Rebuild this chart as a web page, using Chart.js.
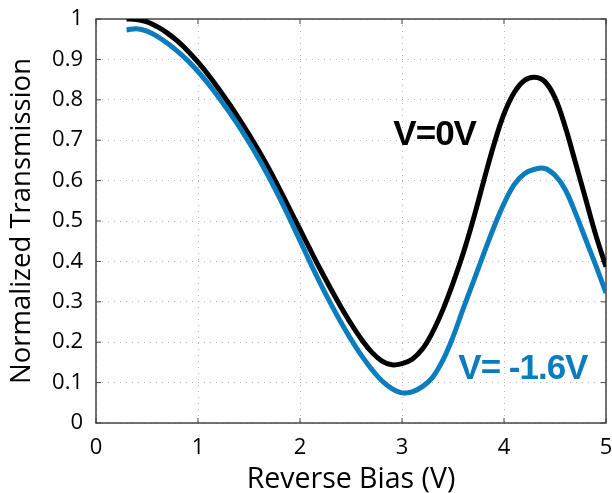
<!DOCTYPE html>
<html>
<head>
<meta charset="utf-8">
<script src="https://cdn.jsdelivr.net/npm/chart.js@4"></script>
<style>
  html, body { margin: 0; padding: 0; background: #fff; }
  #wrap { width: 612px; height: 493px; }
</style>
</head>
<body>
<div id="wrap"><canvas id="chart" width="612" height="493"></canvas></div>
<script>
// Données
const biasVolts = [0.3, 0.4, 0.5, 0.6, 0.7, 0.8, 0.9, 1.0, 1.1, 1.2, 1.3, 1.4, 1.5, 1.6, 1.7, 1.8, 1.9, 2.0,
    2.1, 2.2, 2.3, 2.4, 2.5, 2.6, 2.7, 2.8, 2.9, 3.0, 3.1, 3.2, 3.3, 3.4, 3.5, 3.6, 3.7, 3.8, 3.9, 4.0,
    4.1, 4.2, 4.3, 4.4, 4.5, 4.6, 4.7, 4.8, 4.9, 5.0];
const transmission0V = [1.0, 0.999, 0.993, 0.981, 0.965, 0.945, 0.921, 0.893, 0.862, 0.828, 0.792, 0.754,
    0.714, 0.672, 0.627, 0.579, 0.529, 0.479, 0.429, 0.38, 0.333, 0.288, 0.246, 0.208, 0.176, 0.154, 0.144,
    0.147, 0.158, 0.183, 0.225, 0.28, 0.346, 0.42, 0.505, 0.598, 0.688, 0.765, 0.818, 0.848, 0.856, 0.845,
    0.805, 0.733, 0.645, 0.555, 0.465, 0.387];
const transmissionNeg16V = [0.973, 0.976, 0.97, 0.957, 0.94, 0.92, 0.897, 0.87, 0.84, 0.807, 0.772, 0.735,
    0.695, 0.652, 0.606, 0.557, 0.505, 0.451, 0.397, 0.345, 0.296, 0.25, 0.207, 0.168, 0.134, 0.105, 0.085,
    0.0745, 0.077, 0.09, 0.113, 0.155, 0.213, 0.283, 0.35, 0.418, 0.484, 0.543, 0.59, 0.617, 0.628, 0.63,
    0.613, 0.578, 0.52, 0.455, 0.39, 0.322];
const xTicks = [0, 1, 2, 3, 4, 5];
const yTicks = [0, 0.1, 0.2, 0.3, 0.4, 0.5, 0.6, 0.7, 0.8, 0.9, 1];
const seriesLabels = ['V=0V', 'V= -1.6V'];
// position des étiquettes (en unités des axes)
const labelAnchors = [[3.32, 0.713], [4.185, 0.133]];

const BLACK = '#000000';
const BLUE = '#0B7DBE';

const toPoints = (ys) => ys.map((y, i) => ({ x: biasVolts[i], y: y }));

// Cadre, petites graduations internes et étiquettes des courbes
const framePlugin = {
    id: 'frame',
    beforeDatasetsDraw(chart) {
        const { ctx, chartArea: a, scales } = chart;
        ctx.save();
        ctx.strokeStyle = '#444';
        ctx.lineWidth = 1.5;
        ctx.strokeRect(a.left, a.top, a.right - a.left, a.bottom - a.top);
        ctx.lineWidth = 1;
        const t = 5;
        ctx.beginPath();
        xTicks.forEach(v => {
            const x = scales.x.getPixelForValue(v);
            ctx.moveTo(x, a.bottom); ctx.lineTo(x, a.bottom - t);
            ctx.moveTo(x, a.top); ctx.lineTo(x, a.top + t);
        });
        yTicks.forEach(v => {
            const y = scales.y.getPixelForValue(v);
            ctx.moveTo(a.left, y); ctx.lineTo(a.left + t, y);
            ctx.moveTo(a.right, y); ctx.lineTo(a.right - t, y);
        });
        ctx.stroke();
        ctx.restore();
    },
    afterDatasetsDraw(chart) {
        const { ctx, scales } = chart;
        ctx.save();
        ctx.font = 'bold 35px "Liberation Sans"';
        ctx.letterSpacing = '-1px';
        ctx.textAlign = 'center';
        ctx.textBaseline = 'middle';
        [BLACK, BLUE].forEach((c, i) => {
            ctx.fillStyle = c;
            ctx.fillText(seriesLabels[i], scales.x.getPixelForValue(labelAnchors[i][0]),
                scales.y.getPixelForValue(labelAnchors[i][1]));
        });
        ctx.restore();
    }
};

new Chart(document.getElementById('chart'), {
    type: 'line',
    data: {
        datasets: [
            {
                label: seriesLabels[0],
                data: toPoints(transmission0V),
                borderColor: BLACK,
                borderWidth: 5,
                pointRadius: 0,
                tension: 0.4,
                order: 2
            },
            {
                label: seriesLabels[1],
                data: toPoints(transmissionNeg16V),
                borderColor: BLUE,
                borderWidth: 5,
                pointRadius: 0,
                tension: 0.4,
                order: 1
            }
        ]
    },
    plugins: [framePlugin],
    options: {
        responsive: false,
        animation: false,
        layout: { padding: { top: 19, right: 6, left: 0, bottom: 0 } },
        plugins: {
            legend: { display: false },
            tooltip: { enabled: false }
        },
        scales: {
            x: {
                type: 'linear',
                min: 0,
                max: 5,
                afterBuildTicks: (s) => { s.ticks = xTicks.map(v => ({ value: v })); },
                afterFit: (s) => { s.height = 70; s.paddingLeft = 0; s.paddingRight = 0; },
                grid: { color: '#b5b5b5', lineWidth: 1, drawTicks: false },
                border: { display: false, dash: [1, 5] },
                ticks: {
                    color: '#000',
                    padding: 12,
                    maxRotation: 0,
                    font: { family: '"Open Sans"', size: 22 }
                },
                title: {
                    display: true,
                    text: 'Reverse Bias (V)',
                    color: '#000',
                    font: { family: '"Open Sans"', size: 28.5 },
                    padding: { top: 0, bottom: -4 }
                }
            },
            y: {
                type: 'linear',
                min: 0,
                max: 1,
                afterBuildTicks: (s) => { s.ticks = yTicks.map(v => ({ value: v })); },
                afterFit: (s) => { s.width = 96; s.paddingTop = 0; s.paddingBottom = 0; },
                grid: { color: '#b5b5b5', lineWidth: 1, drawTicks: false },
                border: { display: false, dash: [1, 5] },
                ticks: {
                    color: '#000',
                    padding: 13,
                    callback: (v) => String(+v.toFixed(1)),
                    font: { family: '"Open Sans"', size: 22 }
                },
                title: {
                    display: true,
                    text: 'Normalized Transmission',
                    color: '#000',
                    font: { family: '"Open Sans"', size: 27.5 },
                    padding: { top: 6, bottom: 0 }
                }
            }
        }
    }
});
</script>
</body>
</html>
